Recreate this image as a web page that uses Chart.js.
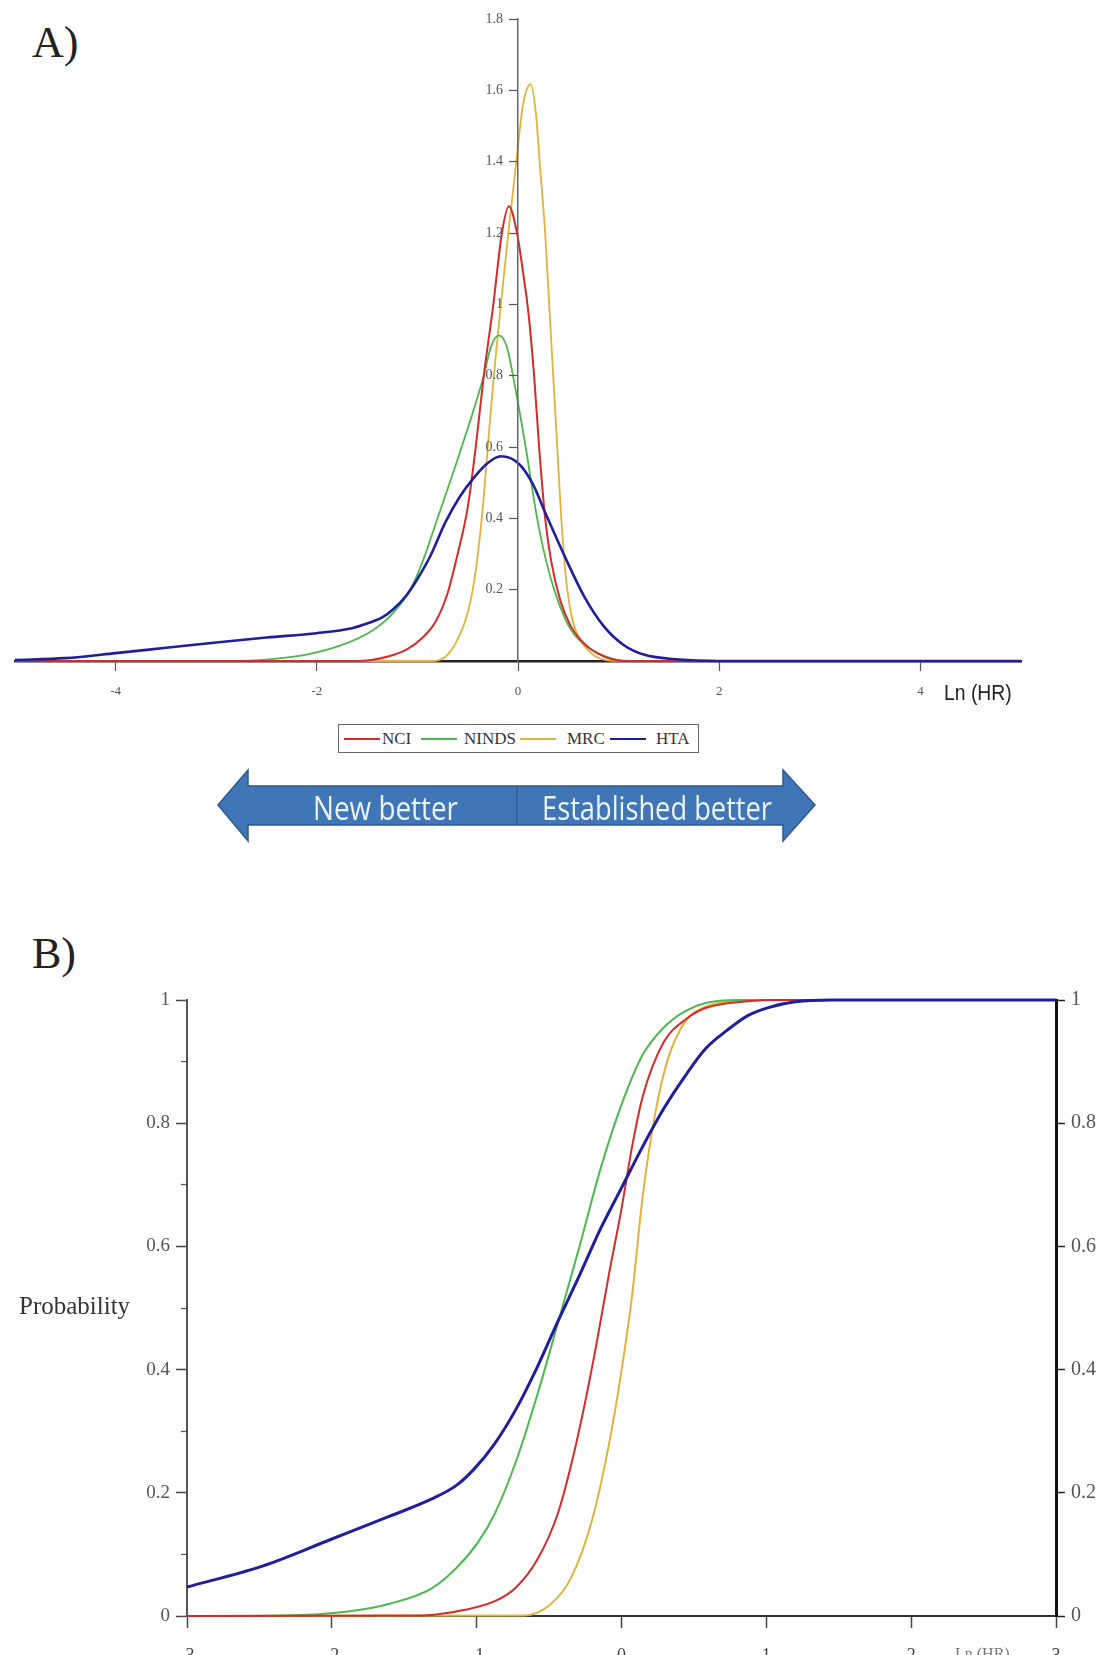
<!DOCTYPE html>
<html>
<head>
<meta charset="utf-8">
<script src="https://cdn.jsdelivr.net/npm/chart.js@4.4.0/dist/chart.umd.min.js"></script>
<style>
html, body { margin: 0; padding: 0; background: #fff; width: 1108px; height: 1655px; overflow: hidden; }
.abs { position: absolute; }
.panel { font-family: "Liberation Serif", serif; font-size: 44px; color: #222; line-height: 1; }
#legendA { left: 338px; top: 724px; width: 359px; height: 27px; border: 1.5px solid #666; background: #fff; }
#legendA .ln { position: absolute; top: 13px; width: 36px; height: 2px; }
#legendA .tx { position: absolute; top: 4px; font: 17px "Liberation Serif", serif; color: #333; }
</style>
</head>
<body>

<div class="abs panel" style="left:32px;top:21px;">A)</div>
<div class="abs panel" style="left:32px;top:932px;">B)</div>

<canvas id="chartA" class="abs" style="left:0;top:0;" width="1108" height="720"></canvas>
<canvas id="chartAy" class="abs" style="left:0;top:0;" width="1108" height="720"></canvas>
<div class="abs" style="left:944px;top:680px;font:22px 'Liberation Sans',sans-serif;color:#222;transform:scaleX(0.88);transform-origin:left;">Ln (HR)</div>

<div id="legendA" class="abs">
  <span class="ln" style="left:5px;background:#d42b2b;"></span><span class="tx" style="left:43px;">NCI</span>
  <span class="ln" style="left:82px;background:#4cb84e;"></span><span class="tx" style="left:125px;">NINDS</span>
  <span class="ln" style="left:181px;background:#e3b23c;"></span><span class="tx" style="left:228px;">MRC</span>
  <span class="ln" style="left:271px;background:#1f1f9c;"></span><span class="tx" style="left:317px;">HTA</span>
</div>

<svg class="abs" style="left:0;top:0;" width="1108" height="900">
  <polygon points="218,805 248,770 248,786 783,786 783,770 815,805 783,841 783,825 248,825 248,841"
           fill="#4076b5" stroke="#2d5a8e" stroke-width="1.5"/>
  <line x1="517" y1="786" x2="517" y2="825" stroke="#2d5a8e" stroke-width="1.2"/>
  <text x="313" y="820" font-family="Open Sans, sans-serif" font-size="33" fill="#eaf3fb" textLength="145" lengthAdjust="spacingAndGlyphs">New better</text>
  <text x="542" y="820" font-family="Open Sans, sans-serif" font-size="33" fill="#eaf3fb" textLength="230" lengthAdjust="spacingAndGlyphs">Established better</text>
</svg>

<canvas id="chartB" class="abs" style="left:0;top:900px;" width="1108" height="780"></canvas>
<div class="abs" style="left:19px;top:1292px;font:25px 'Liberation Serif',serif;color:#333;">Probability</div>
<div class="abs" style="left:955px;top:1645px;font:16px 'Liberation Serif',serif;color:#777;">Ln (HR)</div>

<script>
// ---- Panel A: densities of Ln(HR) ----
const nciX   = [-5, -1.6, -1.3, -1.1, -0.95, -0.82, -0.7, -0.6, -0.5, -0.42, -0.34, -0.245, -0.16, -0.09, -0.01, 0.05, 0.11, 0.16, 0.21, 0.27, 0.33, 0.42, 0.52, 0.62, 0.8, 1.05, 5];
const nciY   = [0, 0, 0.012, 0.033, 0.065, 0.11, 0.19, 0.3, 0.43, 0.6, 0.8, 1.0, 1.2, 1.275, 1.2, 1.09, 0.96, 0.8, 0.6, 0.4, 0.28, 0.17, 0.1, 0.06, 0.02, 0, 0];
const nindsX = [-5, -2.8, -2.5, -2.1, -1.75, -1.45, -1.24, -1.07, -0.94, -0.8, -0.56, -0.34, -0.27, -0.19, -0.11, -0.05, 0.076, 0.19, 0.28, 0.36, 0.5, 0.64, 0.85, 1.1, 5];
const nindsY = [0, 0, 0.004, 0.018, 0.045, 0.085, 0.135, 0.2, 0.285, 0.4, 0.6, 0.8, 0.88, 0.913, 0.88, 0.8, 0.6, 0.4, 0.28, 0.2, 0.1, 0.05, 0.015, 0, 0];
const mrcX   = [-5, -0.85, -0.62, -0.45, -0.36, -0.30, -0.24, -0.17, -0.096, -0.017, 0.05, 0.126, 0.18, 0.215, 0.27, 0.31, 0.35, 0.39, 0.43, 0.49, 0.64, 1.0, 5];
const mrcY   = [0, 0, 0.05, 0.2, 0.4, 0.6, 0.8, 1.0, 1.2, 1.4, 1.56, 1.617, 1.53, 1.4, 1.2, 1.0, 0.8, 0.6, 0.4, 0.2, 0.05, 0, 0];
const htaX   = [-5, -4.5, -4, -3.5, -3, -2.5, -2, -1.65, -1.5, -1.35, -1.24, -1.12, -1.0, -0.87, -0.72, -0.58, -0.45, -0.3, -0.17, 0, 0.14, 0.28, 0.47, 0.66, 0.86, 1.05, 1.25, 1.6, 2.0, 5];
const htaY   = [0.003, 0.008, 0.022, 0.037, 0.052, 0.066, 0.078, 0.092, 0.105, 0.122, 0.145, 0.18, 0.23, 0.295, 0.39, 0.46, 0.51, 0.555, 0.574, 0.555, 0.5, 0.41, 0.29, 0.18, 0.095, 0.045, 0.018, 0.004, 0, 0];
const xTicksA = [-4, -2, 0, 2, 4];
const yTicksA = [0.2, 0.4, 0.6, 0.8, 1, 1.2, 1.4, 1.6, 1.8];

// ---- Panel B: cumulative probability ----
const cNciX   = [-3, -1.37, -1.08, -0.875, -0.73, -0.58, -0.44, -0.35, -0.26, -0.175, -0.088, 0, 0.073, 0.146, 0.29, 0.44, 0.58, 0.875, 1.1, 3];
const cNciY   = [0, 0.001, 0.01, 0.024, 0.046, 0.092, 0.166, 0.243, 0.337, 0.439, 0.553, 0.661, 0.762, 0.843, 0.931, 0.968, 0.987, 0.998, 1.0, 1.0];
const cNindsX = [-3, -2.33, -1.9, -1.6, -1.31, -1.14, -0.99, -0.875, -0.73, -0.58, -0.44, -0.29, -0.146, 0, 0.146, 0.29, 0.44, 0.58, 0.8, 3];
const cNindsY = [0, 0.001, 0.007, 0.02, 0.045, 0.078, 0.12, 0.166, 0.25, 0.36, 0.475, 0.6, 0.725, 0.83, 0.911, 0.955, 0.982, 0.995, 1.0, 1.0];
const cMrcX   = [-3, -0.67, -0.5, -0.35, -0.204, -0.088, 0, 0.073, 0.146, 0.233, 0.32, 0.44, 0.58, 0.73, 0.9, 3];
const cMrcY   = [0, 0.001, 0.017, 0.061, 0.155, 0.277, 0.398, 0.52, 0.681, 0.816, 0.904, 0.965, 0.989, 0.997, 1.0, 1.0];
const cHtaX   = [-3, -2.48, -2.0, -1.6, -1.31, -1.14, -1.02, -0.875, -0.73, -0.58, -0.44, -0.29, -0.146, 0, 0.146, 0.29, 0.44, 0.58, 0.73, 0.875, 1.02, 1.2, 1.45, 3];
const cHtaY   = [0.047, 0.081, 0.125, 0.162, 0.19, 0.212, 0.238, 0.28, 0.335, 0.405, 0.478, 0.553, 0.628, 0.695, 0.762, 0.823, 0.877, 0.921, 0.951, 0.975, 0.988, 0.997, 1.0, 1.0];
const xTicksB = [-3, -2, -1, 0, 1, 2, 3];
const yTicksB = [0, 0.2, 0.4, 0.6, 0.8, 1];
const yMinorB = [0, 0.1, 0.2, 0.3, 0.4, 0.5, 0.6, 0.7, 0.8, 0.9, 1];

const colors = { nci: '#d42b2b', ninds: '#4cb84e', mrc: '#e3b23c', hta: '#1f1f9c' };
const serif = 'Liberation Serif';

function pts(xs, ys) {
  return xs.map((x, i) => ({ x: x, y: ys[i] }));
}
function setTicks(list) {
  return function (s) { s.ticks = list.map(v => ({ value: v })); };
}
function fmt(v) {
  return String(+Number(v).toFixed(1));
}
function ds(label, xs, ys, color, w) {
  return { label: label, data: pts(xs, ys), borderColor: color, borderWidth: w,
           showLine: true, pointRadius: 0, fill: false, clip: false,
           cubicInterpolationMode: 'monotone' };
}
const noPlugins = { legend: { display: false }, tooltip: { enabled: false } };

// curves + x axis
new Chart(document.getElementById('chartA'), {
  type: 'scatter',
  data: {
    datasets: [
      ds('HTA', htaX, htaY, colors.hta, 2.6),
      ds('NCI', nciX, nciY, colors.nci, 2),
      ds('NINDS', nindsX, nindsY, colors.ninds, 1.8),
      ds('MRC', mrcX, mrcY, colors.mrc, 1.8)
    ]
  },
  options: {
    responsive: false,
    animation: false,
    layout: { padding: { left: 15, right: 87, top: 19, bottom: 19 } },
    plugins: noPlugins,
    scales: {
      x: {
        type: 'linear', min: -5, max: 5, position: 'bottom',
        afterBuildTicks: setTicks(xTicksA),
        afterFit: function (s) { s.height = 40; },
        border: { color: '#222', width: 2.5 },
        grid: { drawOnChartArea: false, drawTicks: true, tickLength: 10, color: '#555', tickWidth: 1.2 },
        ticks: { font: { family: serif, size: 13 }, color: '#555', padding: 13 }
      },
      y: { type: 'linear', min: 0, max: 1.8, display: false }
    }
  }
});

// y axis of panel A, crossing at Ln(HR) = 0
new Chart(document.getElementById('chartAy'), {
  type: 'scatter',
  data: { datasets: [] },
  options: {
    responsive: false,
    animation: false,
    layout: { padding: { left: 458, right: 87, top: 19, bottom: 59 } },
    plugins: noPlugins,
    scales: {
      x: { type: 'linear', min: 0, max: 5, display: false },
      y: {
        type: 'linear', min: 0, max: 1.8, position: 'left',
        afterBuildTicks: setTicks(yTicksA),
        afterFit: function (s) { s.width = 60; },
        border: { color: '#666', width: 1.5 },
        grid: { drawOnChartArea: false, drawTicks: true, tickLength: 9, color: '#555', tickWidth: 1.2 },
        ticks: { font: { family: serif, size: 14 }, color: '#555', padding: 6, callback: fmt }
      }
    }
  }
});

new Chart(document.getElementById('chartB'), {
  type: 'scatter',
  data: {
    datasets: [
      ds('HTA', cHtaX, cHtaY, colors.hta, 3),
      ds('NCI', cNciX, cNciY, colors.nci, 2),
      ds('NINDS', cNindsX, cNindsY, colors.ninds, 2),
      ds('MRC', cMrcX, cMrcY, colors.mrc, 2)
    ]
  },
  options: {
    responsive: false,
    animation: false,
    layout: { padding: { left: 127, right: 0, top: 100, bottom: 14 } },
    plugins: noPlugins,
    scales: {
      x: {
        type: 'linear', min: -3, max: 3, position: 'bottom',
        afterBuildTicks: setTicks(xTicksB),
        afterFit: function (s) { s.height = 50; },
        border: { color: '#333', width: 2 },
        grid: { drawOnChartArea: false, drawTicks: true, tickLength: 12, color: '#444', tickWidth: 1.5 },
        ticks: { font: { family: serif, size: 18 }, color: '#444', padding: 17 }
      },
      y: {
        type: 'linear', min: 0, max: 1, position: 'left',
        afterBuildTicks: setTicks(yTicksB),
        afterFit: function (s) { s.width = 60; },
        border: { color: '#555', width: 2 },
        grid: { drawOnChartArea: false, drawTicks: true, tickLength: 11, color: '#444', tickWidth: 1.5 },
        ticks: { font: { family: serif, size: 19 }, color: '#555', padding: 6, callback: fmt }
      },
      yMinor: {
        type: 'linear', axis: 'y', min: 0, max: 1, position: { x: -3 },
        afterBuildTicks: setTicks(yMinorB),
        border: { display: false },
        grid: { drawOnChartArea: false, drawTicks: true, tickLength: 6, color: '#555', tickWidth: 1.2 },
        ticks: { display: false }
      },
      y2: {
        type: 'linear', min: 0, max: 1, position: 'right',
        afterBuildTicks: setTicks(yTicksB),
        afterFit: function (s) { s.width = 52; },
        border: { color: '#111', width: 3 },
        grid: { drawOnChartArea: false, drawTicks: true, tickLength: 9, color: '#222', tickWidth: 1.5 },
        ticks: { font: { family: serif, size: 20 }, color: '#555', padding: 6, callback: fmt }
      }
    }
  }
});
</script>
</body>
</html>
